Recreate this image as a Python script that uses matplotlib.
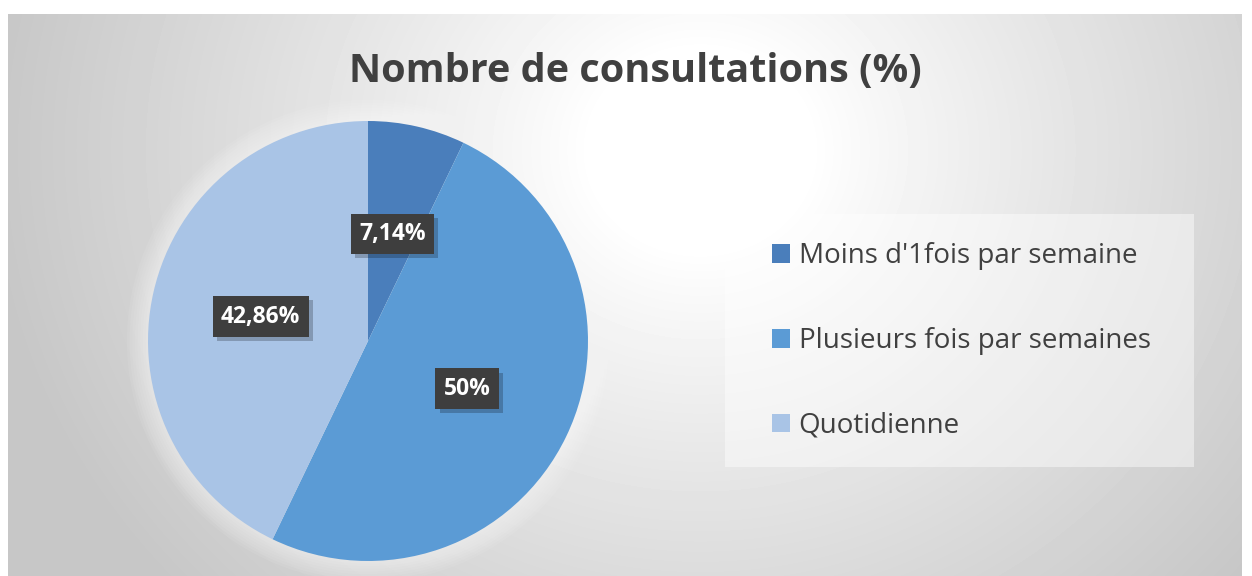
import numpy as np
import matplotlib
matplotlib.use("Agg")
import matplotlib.pyplot as plt
import matplotlib.patheffects as pe
from matplotlib.patches import Rectangle, Circle

# données
categories = ["Moins d'1fois par semaine", "Plusieurs fois par semaines", "Quotidienne"]
values = [7.14, 50, 42.86]
value_labels = ["7,14%", "50%", "42,86%"]
colors = ["#4a7ebb", "#5b9bd5", "#a9c4e6"]

W, H = 1252, 576
fig = plt.figure(figsize=(W / 100, H / 100), dpi=100)
fig.patch.set_facecolor("white")

# fond dégradé radial (blanc vers le haut au centre, gris sur les bords)
x0, y0 = 8, 14
bw, bh = W - 10 - x0, H - y0
bg = fig.add_axes([x0 / W, 0, bw / W, bh / H])
bg.set_axis_off()
yy, xx = np.mgrid[0:bh, 0:bw]
d = np.hypot(xx + x0 - 700, (yy + y0 - 150) * 1.1)
g = 1.0 - 0.22 * np.clip((d - 110) / 600.0, 0, 1) ** 0.9
bg.imshow(g, cmap="gray", vmin=0, vmax=1, aspect="auto", extent=[0, 1, 0, 1],
          origin="upper", interpolation="bilinear")
bg.set_xlim(0, 1)
bg.set_ylim(0, 1)

# camembert
r = 220
cxp, cyp = 368, H - 341
ax = fig.add_axes([(cxp - r) / W, (cyp - r) / H, 2 * r / W, 2 * r / H])
ax.set_axis_off()
# léger halo autour du camembert
for k in range(8):
    ax.add_patch(Circle((0, 0), 1.0 + 0.012 * (k + 1), fc="white", ec="none",
                        alpha=0.07, zorder=0, clip_on=False))
wedges, texts = ax.pie(values, labels=value_labels, colors=colors, startangle=90,
                       counterclock=False, labeldistance=0.5,
                       wedgeprops=dict(linewidth=0, zorder=1))
ax.set_xlim(-1, 1)
ax.set_ylim(-1, 1)
ax.set_aspect("equal")

for t in texts:
    t.set_ha("center")
    t.set_va("center")
    t.set_color("white")
    t.set_fontsize(16.5)
    t.set_fontweight("bold")
    t.set_fontfamily("Open Sans")
    t.set_zorder(5)
    t.set_bbox(dict(boxstyle="square,pad=0.36", fc="#3e3e3e", ec="none"))
    t.get_bbox_patch().set_path_effects([
        pe.SimplePatchShadow(offset=(3, -3), shadow_rgbFace="#000000", alpha=0.22),
        pe.Normal()])

# titre
fig.text(635 / W, 1 - 72 / H, "Nombre de consultations (%)", ha="center", va="center",
         fontsize=28.5, fontweight="bold", color="#404040", family="Open Sans")

# légende
fig.patches.append(Rectangle((725 / W, 1 - 467 / H), (1194 - 725) / W, (467 - 214) / H,
                             transform=fig.transFigure, fc="white", ec="none",
                             alpha=0.45, zorder=1))
leg = fig.legend(wedges, categories, loc="center left",
                 bbox_to_anchor=(750 / W, 1 - 341 / H), frameon=False,
                 prop=dict(family="Open Sans", size=20), labelcolor="#404040",
                 handlelength=0.65, handleheight=0.65, handletextpad=0.3,
                 labelspacing=2.05, borderpad=0.3)

fig.savefig("out.png", dpi=100)
